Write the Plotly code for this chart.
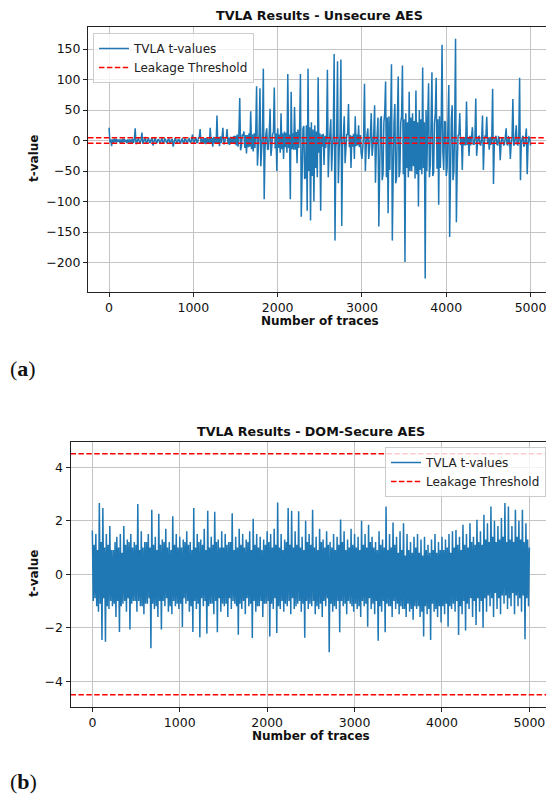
import plotly.graph_objects as go

# ---------------- data ----------------
# Peak excursions of the t-value trace, one reading every 20 traces.
unsecure_t = [
    21, -9, 2, -3, 3, -2, 2, -4, 3, -2, 1, -3, 2, -4, 3, 20, -6, 4, -3, 13, -5, 6, -4, 3, -3,
    4, -8, 3, -4, 2, -3, 4, -5, 2, -3, 3, -4, 2, -10, 3, -4, 2, -3, 3, -5, 2, -4, 3, -2, 10,
    -4, 5, -3, 6, 19, -5, 4, -6, 5, -4, 21, -10, 6, -5, 41, -9, 7, 21, -6, 5, 19, -7, 6, -5, 8,
    -8, 10, 70, -16, 8, 15, -21, 9, -10, 48, -18, 12, 89, -41, 86, -42, 118, -96, 20, -15, 52, -25, 14, 87, -50,
    20, -20, 45, -30, 15, -20, 109, -96, 80, -15, 55, -37, 18, 109, -125, 24, -63, -115, 118, -131, 30, -100, 25, -60, 104,
    -115, 10, -40, 8, 116, -60, 35, -50, 142, -164, 130, -70, 133, -140, 40, -37, 10, 60, -45, 8, -30, 40, -8, 25, -20,
    -30, 93, -50, 20, -30, 45, -25, 58, -69, 38, -141, 40, -65, 45, 97, -119, 40, 125, -164, 60, -70, 105, -60, 40, 123,
    -199, 45, -60, 80, -50, 45, -62, 82, -108, 50, -55, 120, -226, 50, 94, -60, 112, -58, 45, 103, -105, 40, 157, -20, 30,
    -58, 91, -158, 58, -65, 167, -134, 10, 45, -48, 6, -8, 64, -25, 8, 22, -6, 69, -25, 7, -6, 41, -48, 6, 39,
    -15, 6, 85, -71, 8, -6, 5, -32, 4, -8, 20, -6, 5, -30, 68, -8, 25, -6, 103, -65, 8, -10, 20, -55, 5, -8,
]
# Inner (dense band) swings of the same trace, between the peak readings.
unsecure_core = [
    -3, 2, -4, 3, -3, 2, -4, 2, -3, 3, -4, 2, -3, 2, -4, 3, -3, 2, -4, 2, -3, 3, -4, 2, -3,
    2, -4, 3, -3, 2, -4, 2, -3, 3, -4, 2, -3, 2, -4, 3, -3, 2, -4, 2, -3, 3, -4, 2, -3, 3,
    -4, 3, -3, 4, -4, 3, -5, 4, -4, 3, -5, 4, -4, 5, -5, 4, -4, 5, -5, 4, -6, 5, -5, 6, -6,
    8, -10, 12, -9, 10, -12, 9, -11, 12, -14, 10, -12, 15, -13, 12, -15, 14, -12, 10, -14, 12, -11, 10, -13, 12,
    -12, 10, -14, 12, -11, 13, -12, 10, -14, 12, -15, 14, -12, 15, -55, 20, -60, 25, -50, 22, -58, 18, -45, 15, -20,
    12, -10, 11, -12, 10, -14, 12, -11, 13, -12, 10, -15, 12, -10, 11, -12, 10, -11, 9, -10, 11, -9, 10, -11, 9,
    -10, 9, -11, 10, -12, 11, -10, 12, -11, 10, -50, 35, -55, 30, -60, 38, -48, 32, -55, 30, -62, 35, -50, 30, -55,
    35, -45, 30, -50, 38, -42, 32, -55, 30, -48, 35, -45, 30, -50, 35, -40, 32, -52, 28, -46, 35, -45, 30, -48, 32,
    -45, 30, -55, 35, -50, 28, -40, 8, -7, 6, -8, 5, -7, 6, -8, 7, -6, 5, -7, 6, -8, 5, -6, 7, -6,
    5, -7, 6, -6, 5, -7, 6, -5, 4, -6, 5, -7, 6, -5, 4, -6, 5, -7, 6, -5, 4, -6, 5, -7, 6,
]

dom_t = [
    1.63, -0.9, 1.5, -1.4, 2.66, -2.46, 2.47, -2.52, 1.5, -1.3, 1.8, -1.2, 0.9, -1.6, 1.4, -2.16, 1.5, -1.1, 1.8, -1.4, 1.3, -2.07, 1.5, -1.0, 1.2,
    -1.4, 2.62, -1.2, 1.6, -1.5, 1.2, -1.1, 1.5, -2.77, 2.41, -1.3, 1.4, -1.6, 2.26, -2.07, 1.3, -1.2, 1.7, -1.4, 1.2, -1.5, 2.16, -1.2, 1.5, -1.3,
    1.4, -1.97, 1.3, -1.1, 1.6, -1.4, 1.2, -2.16, 2.47, -1.3, 1.5, -2.36, 1.3, -1.2, 1.7, -2.22, 2.37, -1.1, 1.4, -1.5, 2.33, -2.17, 1.3, -1.4, 1.6,
    -1.2, 1.5, -1.6, 1.2, -1.3, 2.28, -1.1, 1.4, -2.26, 1.7, -1.3, 1.5, -1.5, 1.3, -1.2, 1.6, -2.38, 2.07, -1.4, 1.5, -1.2, 1.4, -1.6, 1.3, -1.1,
    1.6, -2.33, 1.5, -1.3, 1.7, -2.2, 2.68, -1.3, 1.5, -1.4, 1.3, -1.2, 2.47, -1.5, 2.37, -1.3, 1.6, -1.1, 2.35, -1.4, 1.4, -2.37, 2.0, -1.3, 1.5,
    -1.2, 2.41, -1.5, 1.4, -1.3, 1.7, -1.6, 1.3, -1.2, 1.6, -2.92, 1.2, -1.4, 1.5, -1.3, 1.4, -2.17, 2.04, -1.2, 1.6, -1.5, 1.3, -1.1, 1.7, -1.4,
    1.5, -1.3, 1.4, -1.6, 2.0, -1.2, 1.5, -1.96, 1.85, -1.3, 1.4, -1.5, 1.2, -2.49, 1.6, -1.4, 1.3, -2.17, 2.53, -1.2, 1.5, -1.6, 1.93, -1.3, 1.4,
    -1.5, 1.6, -1.3, 1.9, -1.6, 1.5, -1.4, 1.2, -1.7, 1.4, -1.3, 1.5, -1.6, 1.3, -2.33, 1.4, -1.5, 1.1, -2.46, 1.3, -1.4, 1.5, -1.6, 1.2, -1.8,
    1.4, -1.5, 1.3, -1.96, 1.5, -1.3, 1.6, -1.4, 1.65, -2.27, 1.4, -1.5, 1.85, -2.1, 1.5, -1.3, 1.9, -1.6, 1.4, -1.9, 2.03, -1.4, 1.6, -2.0, 2.22,
    -1.4, 1.9, -1.2, 2.53, -1.6, 2.0, -1.3, 1.8, -1.5, 2.1, -1.1, 2.66, -1.3, 2.53, -1.2, 1.8, -1.5, 2.41, -1.2, 2.0, -1.4, 2.41, -2.43, 1.9, -1.2, 1.0,
]
dom_core = [
    -1.0, 1.1, -1.2, 0.9, -1.1, 1.2, -0.9, 1.0, -1.2, 1.1, -1.0, 0.9, -1.1, 1.2, -1.0, 1.0, -1.2, 0.8, -1.0, 1.1, -0.9, 1.2, -1.1, 1.0, -1.0,
    1.1, -1.0, 0.9, -1.2, 1.0, -1.1, 1.2, -0.9, 1.0, -1.1, 1.1, -1.2, 0.9, -1.0, 1.1, -1.0, 1.2, -0.9, 1.0, -1.2, 0.9, -1.0, 1.1, -1.1, 1.0,
    -1.1, 1.0, -0.9, 1.2, -1.0, 1.1, -1.2, 0.9, -1.0, 1.0, -1.1, 1.2, -0.9, 1.1, -1.0, 0.9, -1.2, 1.0, -1.1, 1.1, -1.0, 1.2, -0.9, 1.0, -1.1,
    1.0, -1.1, 1.1, -0.9, 1.2, -1.0, 0.9, -1.2, 1.0, -1.1, 1.1, -1.0, 1.0, -0.9, 1.2, -1.1, 0.9, -1.0, 1.1, -1.2, 1.0, -1.0, 0.9, -1.1, 1.1,
    -1.0, 1.2, -1.1, 1.0, -0.9, 1.1, -1.2, 1.0, -1.0, 0.9, -1.1, 1.2, -1.0, 1.1, -0.9, 1.0, -1.2, 1.1, -1.0, 1.0, -1.1, 0.9, -1.0, 1.2, -1.1,
    1.1, -1.0, 1.0, -1.2, 0.9, -1.1, 1.2, -1.0, 1.0, -0.9, 1.1, -1.1, 1.0, -1.2, 0.9, -1.0, 1.1, -1.0, 1.2, -1.1, 0.9, -1.0, 1.0, -1.2, 1.1,
    -1.1, 1.0, -1.2, 0.9, -1.0, 1.1, -1.1, 1.0, -0.9, 1.2, -1.1, 1.0, -1.0, 0.9, -1.2, 1.1, -1.0, 1.0, -1.1, 0.9, -1.2, 1.0, -1.0, 1.1, -1.1,
    0.8, -1.2, 0.9, -1.3, 0.7, -1.1, 0.9, -1.3, 0.8, -1.2, 1.0, -1.2, 0.8, -1.4, 0.7, -1.2, 0.9, -1.3, 0.8, -1.1, 0.9, -1.3, 0.8, -1.2, 0.9,
    -1.2, 0.9, -1.1, 1.0, -1.2, 0.8, -1.1, 1.0, -1.0, 1.1, -1.2, 0.9, -1.0, 1.1, -1.1, 1.0, -0.9, 1.2, -1.0, 1.1, -0.9, 1.2, -1.0, 1.1, -0.9,
    1.3, -0.8, 1.2, -0.9, 1.4, -0.7, 1.2, -0.9, 1.3, -0.8, 1.4, -0.8, 1.2, -0.9, 1.3, -0.7, 1.2, -0.8, 1.4, -0.9, 1.3, -0.8, 1.2, -0.9, 1.3,
]

THRESHOLD = 4.5
SAMPLE_STEP = 10  # traces between consecutive plotted samples
x_ticks = [0, 1000, 2000, 3000, 4000, 5000]
top_y_ticks = [-200, -150, -100, -50, 0, 50, 100, 150]
bot_y_ticks = [-4, -2, 0, 2, 4]


def merge(peaks, core):
    """Order peak and inner-band readings as they occur along the trace axis."""
    out = []
    for k in range(len(core) // 2):
        out += [peaks[2 * k], core[2 * k], core[2 * k + 1], peaks[2 * k + 1]]
    out += peaks[len(core):]
    return out


top_y = merge(unsecure_t, unsecure_core)
bot_y = merge(dom_t, dom_core)
top_x = [i * SAMPLE_STEP for i in range(len(top_y))]
bot_x = [i * SAMPLE_STEP for i in range(len(bot_y))]

# ---------------- layout constants ----------------
W, H = 546, 796
BLUE = "#1f77b4"
RED = "#ff0000"
FONT = "DejaVu Sans"
X_RANGE_TOP = [-250, 5183]
X_RANGE_BOT = [-250, 5190]
Y_RANGE_TOP = [-247.75, 186.75]
Y_RANGE_BOT = [-4.95, 4.95]
LW = 1.5
DASH = "5.5px,2.4px"


def px(x):
    return x / W


def py(y):
    return 1 - y / H


fig = go.Figure()

# top panel
fig.add_trace(go.Scatter(x=top_x, y=top_y, mode="lines", name="TVLA t-values",
                         line=dict(color=BLUE, width=LW, simplify=False),
                         xaxis="x", yaxis="y", legend="legend"))
fig.add_trace(go.Scatter(x=[X_RANGE_TOP[0], 5250], y=[THRESHOLD, THRESHOLD], mode="lines",
                         name="Leakage Threshold", line=dict(color=RED, width=1.5, dash=DASH),
                         xaxis="x", yaxis="y", legend="legend"))
fig.add_trace(go.Scatter(x=[X_RANGE_TOP[0], 5250], y=[-THRESHOLD, -THRESHOLD], mode="lines",
                         showlegend=False, line=dict(color=RED, width=1.5, dash=DASH),
                         xaxis="x", yaxis="y"))

# bottom panel
fig.add_trace(go.Scatter(x=bot_x, y=bot_y, mode="lines", name="TVLA t-values",
                         line=dict(color=BLUE, width=LW, simplify=False),
                         xaxis="x2", yaxis="y2", legend="legend2"))
fig.add_trace(go.Scatter(x=[X_RANGE_BOT[0], 5250], y=[THRESHOLD, THRESHOLD], mode="lines",
                         name="Leakage Threshold", line=dict(color=RED, width=1.5, dash=DASH),
                         xaxis="x2", yaxis="y2", legend="legend2"))
fig.add_trace(go.Scatter(x=[X_RANGE_BOT[0], 5250], y=[-THRESHOLD, -THRESHOLD], mode="lines",
                         showlegend=False, line=dict(color=RED, width=1.5, dash=DASH),
                         xaxis="x2", yaxis="y2"))

axis_common = dict(
    showgrid=True, gridcolor="#c4c4c4", gridwidth=1, zeroline=False,
    showline=True, linecolor="#222222", linewidth=1,
    ticks="outside", ticklen=4, tickwidth=1, tickcolor="#222222",
    tickfont=dict(family=FONT, size=12.5, color="#111111"),
    automargin=False, fixedrange=True,
)

legend_common = dict(
    bgcolor="rgba(255,255,255,0.8)", bordercolor="#cccccc", borderwidth=1,
    font=dict(family=FONT, size=12, color="#222222"),
    xanchor="left", yanchor="top", itemwidth=30, tracegroupgap=0,
)

fig.update_layout(
    width=W, height=H,
    margin=dict(l=0, r=0, t=0, b=0),
    paper_bgcolor="white", plot_bgcolor="white",
    showlegend=True,
    xaxis=dict(domain=[px(88), 1], range=X_RANGE_TOP, tickvals=x_ticks, mirror=True,
               anchor="y", ticklabeloverflow="allow", **axis_common),
    yaxis=dict(domain=[py(291.7), py(26.7)], range=Y_RANGE_TOP, tickvals=top_y_ticks,
               anchor="x", mirror=False, **axis_common),
    xaxis2=dict(domain=[px(70.5), 1], range=X_RANGE_BOT, tickvals=x_ticks, mirror=True,
                anchor="y2", ticklabeloverflow="allow", **axis_common),
    yaxis2=dict(domain=[py(706.7), py(441.7)], range=Y_RANGE_BOT, tickvals=bot_y_ticks,
                anchor="x2", mirror=False, **axis_common),
    legend=dict(x=px(93), y=py(33), **legend_common),
    legend2=dict(x=px(385), y=py(447), **legend_common),
)

annotations = [
    dict(text="<b>TVLA Results - Unsecure AES</b>", x=px(319.5), y=py(16), size=12.7),
    dict(text="<b>TVLA Results - DOM-Secure AES</b>", x=px(311), y=py(431), size=12.7),
    dict(text="<b>Number of traces</b>", x=px(319.5), y=py(321), size=12),
    dict(text="<b>Number of traces</b>", x=px(311), y=py(736), size=12),
    dict(text="<b>t-value</b>", x=px(34), y=py(159), size=12, angle=-90),
    dict(text="<b>t-value</b>", x=px(34), y=py(574), size=12, angle=-90),
]
for a in annotations:
    fig.add_annotation(
        text=a["text"], x=a["x"], y=a["y"], xref="paper", yref="paper",
        xanchor="center", yanchor="middle", showarrow=False,
        textangle=a.get("angle", 0),
        font=dict(family=FONT, size=a["size"], color="#111111"),
    )

for label, yy in (("a", 368), ("b", 781)):
    fig.add_annotation(
        text="(<b>%s</b>)" % label, x=px(23), y=py(yy), xref="paper", yref="paper",
        xanchor="center", yanchor="middle", showarrow=False,
        font=dict(family="Liberation Serif", size=22, color="#111111"),
    )

fig.write_html(
    "out.html",
    config={"displayModeBar": False, "staticPlot": True},
    post_script="document.body.style.margin='0';document.body.style.overflow='hidden';",
)
